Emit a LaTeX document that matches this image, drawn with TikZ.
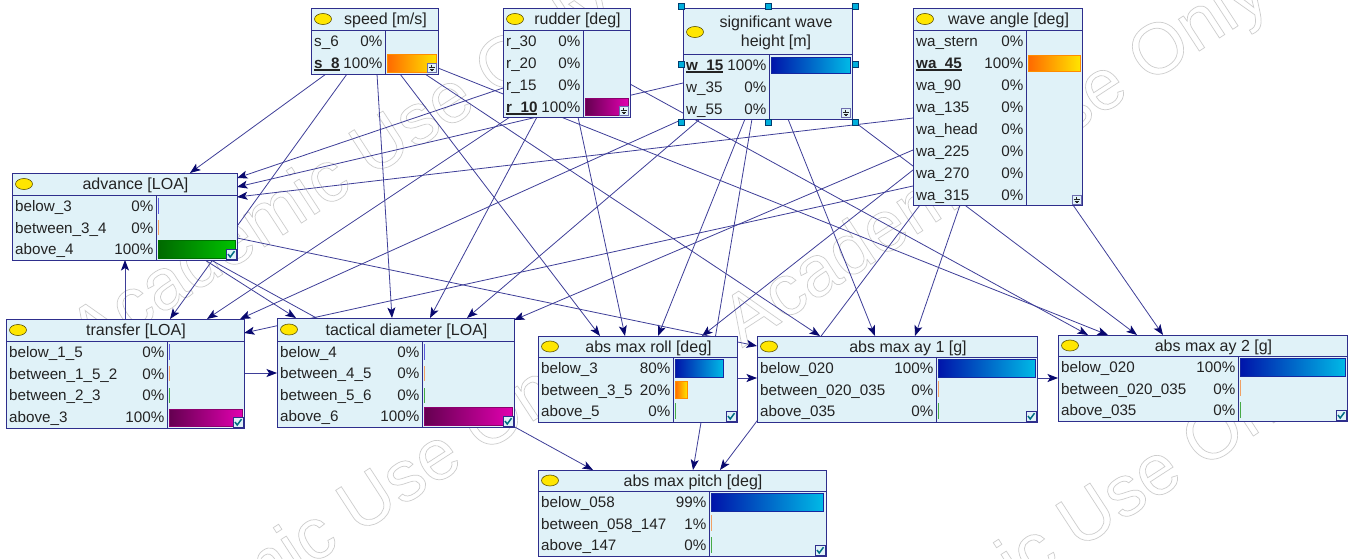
\documentclass[tikz,border=0pt]{standalone}
\usepackage{fontspec}
\setmainfont{Liberation Sans}
\usetikzlibrary{arrows.meta,calc}
\pgfdeclarelayer{wm}
\pgfdeclarelayer{edges}
\pgfsetlayers{wm,edges,main}

\definecolor{boxfill}{RGB}{224,242,248}
\definecolor{bord}{RGB}{46,46,140}
\definecolor{edgecol}{RGB}{62,62,152}
\definecolor{arrcol}{RGB}{8,8,110}
\definecolor{txtcol}{RGB}{35,35,35}
\definecolor{ellfill}{RGB}{255,230,0}
\definecolor{elldraw}{RGB}{90,80,0}
\definecolor{or1}{RGB}{255,105,0}
\definecolor{or2}{RGB}{255,228,0}
\definecolor{orb}{RGB}{255,140,0}
\definecolor{pu1}{RGB}{100,0,80}
\definecolor{pu2}{RGB}{225,0,175}
\definecolor{pub}{RGB}{140,0,110}
\definecolor{bl1}{RGB}{0,20,170}
\definecolor{bl2}{RGB}{0,185,230}
\definecolor{blb}{RGB}{20,40,160}
\definecolor{gr1}{RGB}{0,105,0}
\definecolor{gr2}{RGB}{0,195,0}
\definecolor{grb}{RGB}{0,110,0}
\definecolor{zb}{RGB}{90,90,220}
\definecolor{zo}{RGB}{240,160,100}
\definecolor{zg}{RGB}{70,170,70}
\definecolor{teal}{RGB}{0,110,130}
\definecolor{handlec}{RGB}{0,175,220}
\definecolor{handleb}{RGB}{0,60,110}
\definecolor{wmgray}{RGB}{205,205,205}

\newcommand\fs{\fontsize{15.2}{18}\selectfont}
\newcommand\fst{\fontsize{16}{18}\selectfont}
\newcommand\ulb[1]{\setbox0\hbox{\bfseries #1}\rlap{\rule[-2.6pt]{\wd0}{1.7pt}}\box0}
\newcommand\anc[3]{([xshift=#2pt,yshift=-#3pt]#1.north west)}
\newcommand\wmtext{\special{pdf:literal direct 1 Tr 0.7 w}Academic Use Only\special{pdf:literal direct 0 Tr}}

\tikzset{
  box/.style={draw=bord, fill=boxfill, line width=1pt, inner sep=0pt, outer sep=0pt, anchor=north west},
  bordline/.style={draw=bord, line width=1pt},
  edge/.style={draw=edgecol, line width=0.8pt, -{Stealth[length=10.5pt,width=8pt,inset=2.5pt,color=arrcol]}},
  txt/.style={inner sep=0pt, font=\fs, text=txtcol},
  ttxt/.style={inner sep=0pt, font=\fst, text=txtcol},
  wmark/.style={inner sep=0pt, anchor=base west, rotate=33, font=\fontsize{72}{72}\selectfont, text=wmgray},
}

% box: name x0 y0 x1 y1 titlebottom
\newcommand\mkbox[6]{%
  \node[box, minimum width={#4pt-#2pt}, minimum height={#5pt-#3pt}] (#1) at (#2,#3) {};
  \draw[bordline] (#2,#6) -- (#4,#6);
}
% title: x0 x1 ycenter text
\newcommand\ttl[4]{%
  \pgfmathsetmacro\tx{(#1+22+#2)/2}\pgfmathsetmacro\ty{#3+5.7}%
  \filldraw[fill=ellfill, draw=elldraw, line width=0.6pt] ({#1+12},#3) ellipse [x radius=8.5pt, y radius=5.5pt];
  \node[ttxt, anchor=base] at (\tx,\ty) {#4};
}
% row: x0 divider ycenter label pct
\newcommand\srow[5]{%
  \node[txt, anchor=base west] at ({#1+3},{#3+5.5}) {#4};
  \node[txt, anchor=base east] at ({#2-2.5},{#3+5.5}) {#5};
}
% bar: x0 y0 x1 y1 left right border
\newcommand\pbar[7]{%
  \shade[left color=#5, right color=#6] (#1,#2) rectangle (#3,#4);
  \draw[#7, line width=0.8pt] (#1,#2) rectangle (#3,#4);
}
\newcommand\zline[4]{\draw[#4, line width=1.4pt] (#1,#2) -- (#1,#3);}
% ground icon at top-left x y
\newcommand\gicon[2]{%
  \draw[bord!70, fill=boxfill, line width=0.6pt] (#1,#2) rectangle ++(9,9);
  \draw[txtcol, line width=0.6pt] ({#1+4.5},{#2+1.5}) -- ({#1+4.5},{#2+4})
    ({#1+1.5},{#2+4}) -- ({#1+7.5},{#2+4})
    ({#1+2.5},{#2+5.8}) -- ({#1+6.5},{#2+5.8})
    ({#1+3.5},{#2+7.5}) -- ({#1+5.5},{#2+7.5});
}
% check icon
\newcommand\cicon[2]{%
  \draw[bord, fill=boxfill, line width=0.7pt] (#1,#2) rectangle ++(10,10);
  \draw[teal, line width=1.5pt] ({#1+2},{#2+5}) -- ({#1+4.2},{#2+8}) -- ({#1+8.5},{#2+2.2});
}
\newcommand\hnd[2]{\filldraw[fill=handlec, draw=handleb, line width=0.5pt] ({#1-3.2},{#2-3.2}) rectangle ({#1+3.2},{#2+3.2});}

\begin{document}
\begin{tikzpicture}[x=1pt, y=-1pt]
\useasboundingbox (0,0) rectangle (1352,558);

\begin{pgfonlayer}{wm}
\fill[white] (0,0) rectangle (1352,558);
\node[wmark] (wm1) at (89,361) {\wmtext};
\node[wmark] (wm2) at (742,348) {\wmtext};
\node[wmark] (wm3) at (76,718) {\wmtext};
\node[wmark] (wm4) at (796,733) {\wmtext};
\end{pgfonlayer}

% ---------- speed
\mkbox{speed}{311}{8}{438}{74}{30}
\draw[bordline] (385,30) -- (385,74);
\ttl{311}{438}{19}{speed [m/s]}
\srow{311}{385}{41}{s\_6}{0\%}
\srow{311}{385}{63}{\ulb{s\_8}}{100\%}
\pbar{387}{54}{436}{72}{or1}{or2}{orb}
\gicon{427}{63}

% ---------- rudder
\mkbox{rudder}{503}{8}{630}{117}{30}
\draw[bordline] (583,30) -- (583,117);
\ttl{503}{630}{19}{rudder [deg]}
\srow{503}{583}{41}{r\_30}{0\%}
\srow{503}{583}{63}{r\_20}{0\%}
\srow{503}{583}{85}{r\_15}{0\%}
\srow{503}{583}{107}{\ulb{r\_10}}{100\%}
\pbar{585}{98}{628}{115}{pu1}{pu2}{pub}
\gicon{619}{106}

% ---------- significant wave height
\mkbox{wave}{683}{8}{852}{119}{54}
\draw[bordline] (769,54) -- (769,119);
\filldraw[fill=ellfill, draw=elldraw, line width=0.6pt] (695,32) ellipse [x radius=8.5pt, y radius=5.5pt];
\node[ttxt, anchor=base] at (776,27.5) {significant wave};
\node[ttxt, anchor=base] at (776,46.5) {height [m]};
\srow{683}{769}{65}{\ulb{w\_15}}{100\%}
\srow{683}{769}{87}{w\_35}{0\%}
\srow{683}{769}{109}{w\_55}{0\%}
\pbar{771}{57}{850}{73}{bl1}{bl2}{blb}
\gicon{841}{108}
\hnd{681}{6}\hnd{768}{6}\hnd{855}{6}
\hnd{681}{64}\hnd{855}{64}
\hnd{681}{122}\hnd{768}{122}\hnd{855}{122}

% ---------- wave angle
\mkbox{angle}{913}{8}{1082}{205}{30}
\draw[bordline] (1026,30) -- (1026,205);
\ttl{913}{1082}{19}{wave angle [deg]}
\srow{913}{1026}{41}{wa\_stern}{0\%}
\srow{913}{1026}{63}{\ulb{wa\_45}}{100\%}
\srow{913}{1026}{85}{wa\_90}{0\%}
\srow{913}{1026}{107}{wa\_135}{0\%}
\srow{913}{1026}{129}{wa\_head}{0\%}
\srow{913}{1026}{151}{wa\_225}{0\%}
\srow{913}{1026}{173}{wa\_270}{0\%}
\srow{913}{1026}{195}{wa\_315}{0\%}
\pbar{1028}{55}{1080}{71}{or1}{or2}{orb}
\gicon{1072}{195}

% ---------- advance
\mkbox{advance}{12}{173}{237}{260}{195}
\draw[bordline] (156,195) -- (156,260);
\ttl{12}{237}{184}{advance [LOA]}
\srow{12}{156}{206}{below\_3}{0\%}
\srow{12}{156}{227.5}{between\_3\_4}{0\%}
\srow{12}{156}{249}{above\_4}{100\%}
\zline{158.5}{198}{214}{zb}
\zline{158.5}{220}{235}{zo}
\pbar{158}{240}{235}{258}{gr1}{gr2}{grb}
\cicon{226}{249}

% ---------- transfer
\mkbox{transfer}{6}{319}{244}{428}{341}
\draw[bordline] (167,341) -- (167,428);
\ttl{6}{244}{330}{transfer [LOA]}
\srow{6}{167}{352}{below\_1\_5}{0\%}
\srow{6}{167}{373.5}{between\_1\_5\_2}{0\%}
\srow{6}{167}{395}{between\_2\_3}{0\%}
\srow{6}{167}{417}{above\_3}{100\%}
\zline{169.5}{344}{360}{zb}
\zline{169.5}{366}{381}{zo}
\zline{169.5}{388}{403}{zg}
\pbar{169}{409}{242}{426}{pu1}{pu2}{pub}
\cicon{233}{417}

% ---------- tactical diameter
\mkbox{tactical}{277}{318}{514}{427}{341}
\draw[bordline] (422,341) -- (422,427);
\ttl{277}{514}{329.5}{tactical diameter [LOA]}
\srow{277}{422}{352}{below\_4}{0\%}
\srow{277}{422}{373}{between\_4\_5}{0\%}
\srow{277}{422}{395}{between\_5\_6}{0\%}
\srow{277}{422}{416}{above\_6}{100\%}
\zline{424.5}{344}{360}{zb}
\zline{424.5}{366}{381}{zo}
\zline{424.5}{388}{403}{zg}
\pbar{424}{407}{512}{425}{pu1}{pu2}{pub}
\cicon{503}{416}

% ---------- abs max roll
\mkbox{roll}{538}{336}{737}{422}{357}
\draw[bordline] (673,357) -- (673,422);
\ttl{538}{737}{346.5}{abs max roll [deg]}
\srow{538}{673}{368}{below\_3}{80\%}
\srow{538}{673}{389.5}{between\_3\_5}{20\%}
\srow{538}{673}{411}{above\_5}{0\%}
\pbar{675}{359}{723}{377}{bl1}{bl2}{blb}
\pbar{675}{381}{687}{398}{or1}{or2}{orb}
\zline{675.5}{403}{419}{zg}
\cicon{726}{411}

% ---------- abs max ay 1
\mkbox{ayone}{757}{336}{1037}{422}{357}
\draw[bordline] (936,357) -- (936,422);
\ttl{757}{1037}{346.5}{abs max ay 1 [g]}
\srow{757}{936}{368}{below\_020}{100\%}
\srow{757}{936}{389.5}{between\_020\_035}{0\%}
\srow{757}{936}{411}{above\_035}{0\%}
\pbar{938}{359}{1035}{377}{bl1}{bl2}{blb}
\zline{938.5}{381}{397}{zo}
\zline{938.5}{403}{419}{zg}
\cicon{1026}{411}

% ---------- abs max ay 2
\mkbox{aytwo}{1058}{335}{1347}{421}{356}
\draw[bordline] (1238,356) -- (1238,421);
\ttl{1058}{1347}{345.5}{abs max ay 2 [g]}
\srow{1058}{1238}{367}{below\_020}{100\%}
\srow{1058}{1238}{388.5}{between\_020\_035}{0\%}
\srow{1058}{1238}{410}{above\_035}{0\%}
\pbar{1240}{358}{1345}{376}{bl1}{bl2}{blb}
\zline{1240.5}{380}{396}{zo}
\zline{1240.5}{402}{418}{zg}
\cicon{1336}{410}

% ---------- abs max pitch
\mkbox{pitch}{538}{470}{826}{556}{491}
\draw[bordline] (709,491) -- (709,556);
\ttl{538}{826}{480.5}{abs max pitch [deg]}
\srow{538}{709}{502}{below\_058}{99\%}
\srow{538}{709}{523.5}{between\_058\_147}{1\%}
\srow{538}{709}{545}{above\_147}{0\%}
\pbar{711}{493}{823}{511}{bl1}{bl2}{blb}
\zline{711.5}{515}{531}{zo}
\zline{711.5}{537}{553}{zg}
\cicon{815}{545}

% ---------- connectors
\begin{pgfonlayer}{edges}
% speed
\draw[edge] \anc{speed}{15}{66} -- \anc{advance}{178}{0};
\draw[edge] \anc{speed}{36}{66} -- \anc{transfer}{164}{0};
\draw[edge] \anc{speed}{66}{66} -- \anc{tactical}{115}{0};
\draw[edge] \anc{speed}{89}{66} -- \anc{roll}{62}{0};
\draw[edge] \anc{speed}{114}{66} -- \anc{ayone}{63}{0};
\draw[edge] \anc{speed}{127}{60} -- \anc{aytwo}{50}{0};
% rudder
\draw[edge] \anc{rudder}{0}{80} -- \anc{advance}{225}{5};
\draw[edge] \anc{rudder}{7}{109} -- \anc{transfer}{201}{0};
\draw[edge] \anc{rudder}{34}{109} -- \anc{tactical}{153}{0};
\draw[edge] \anc{rudder}{75}{109} -- \anc{roll}{87}{0};
\draw[edge] \anc{rudder}{127}{76} -- \anc{aytwo}{30}{0};
% significant wave height
\draw[edge] \anc{wave}{0}{75} -- \anc{advance}{225}{14};
\draw[edge] \anc{wave}{0}{111} -- \anc{transfer}{234}{0};
\draw[edge] \anc{wave}{17}{111} -- \anc{tactical}{190}{0};
\draw[edge] \anc{wave}{62}{111} -- \anc{roll}{120}{0};
\draw[edge] \anc{wave}{69}{111} -- \anc{pitch}{155}{0};
\draw[edge] \anc{wave}{105}{111} -- \anc{ayone}{118}{0};
\draw[edge] \anc{wave}{169}{112} -- \anc{aytwo}{79}{0};
% wave angle
\draw[edge] \anc{angle}{0}{110} -- \anc{advance}{225}{24};
\draw[edge] \anc{angle}{0}{178} -- \anc{transfer}{238}{14};
\draw[edge] \anc{angle}{0}{142} -- \anc{tactical}{237}{2};
\draw[edge] \anc{angle}{0}{162} -- \anc{roll}{164}{0};
\draw[edge] \anc{angle}{7}{197} -- \anc{pitch}{182}{0};
\draw[edge] \anc{angle}{47}{197} -- \anc{ayone}{158}{0};
\draw[edge] \anc{angle}{160}{197} -- \anc{aytwo}{105}{0};
% between children
\draw[edge] \anc{transfer}{119}{0} -- \anc{advance}{113}{87};
\draw[edge] \anc{advance}{193}{87} -- \anc{tactical}{19}{0};
\draw[edge] \anc{advance}{199}{87} -- \anc{pitch}{55}{0};
\draw[edge] \anc{advance}{225}{65} -- \anc{ayone}{0}{10};
\draw[edge] \anc{transfer}{238}{54} -- \anc{tactical}{0}{55};
\draw[edge] \anc{roll}{199}{42} -- \anc{ayone}{0}{42};
\draw[edge] \anc{ayone}{280}{42} -- \anc{aytwo}{0}{43};
\end{pgfonlayer}
\end{tikzpicture}
\end{document}
